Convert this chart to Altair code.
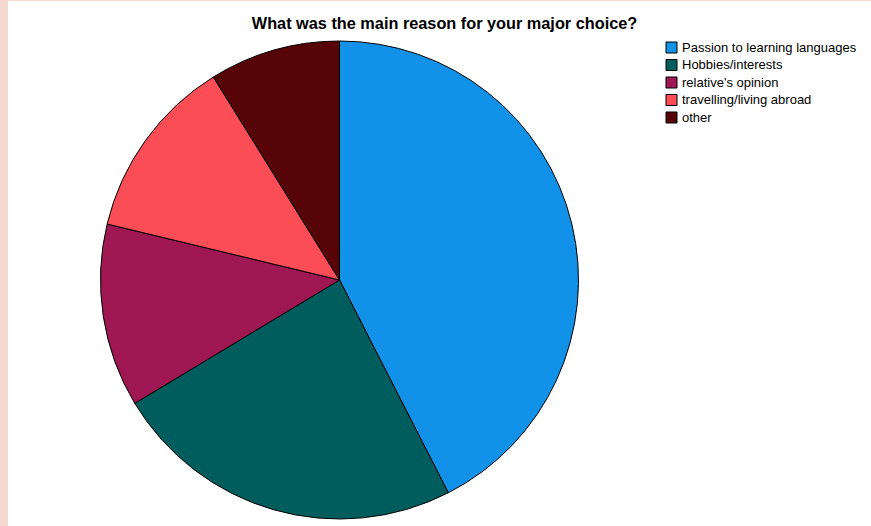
import altair as alt
import pandas as pd

categories = ["Passion to learning languages", "Hobbies/interests", "relative's opinion",
              "travelling/living abroad", "other"]
counts = [48, 27, 14, 14, 10]
colors = ["#1192e8", "#005d5d", "#9f1853", "#fa4d56", "#570408"]

df = pd.DataFrame({"reason": categories, "count": counts, "order": list(range(len(categories)))})

chart = alt.Chart(df).mark_arc(radius=239, stroke="black", strokeWidth=1).encode(
    theta=alt.Theta("count:Q", stack=True),
    order=alt.Order("order:Q"),
    color=alt.Color("reason:N", sort=categories,
                    scale=alt.Scale(domain=categories, range=colors),
                    legend=alt.Legend(title=None, orient="none", legendX=657, legendY=40,
                                      symbolType="square", symbolSize=121, symbolStrokeColor="black",
                                      symbolStrokeWidth=1, labelFontSize=13, labelFont="Liberation Sans",
                                      labelColor="black", rowPadding=3.5, labelOffset=4, padding=0,
                                      labelLimit=0, symbolOffset=0, clipHeight=13)),
    x=alt.value(331.5),
    y=alt.value(279),
).properties(
    width=863, height=525,
    padding={"left": 8, "top": 1, "right": 0, "bottom": 0},
    autosize=alt.AutoSizeParams(type="none"),
    background="#f5d8d0",
    title=alt.TitleParams("What was the main reason for your major choice?", fontSize=16.3,
                          font="Liberation Sans", fontWeight="bold", color="black",
                          anchor="middle", offset=-31, dx=5),
).configure_view(fill="white", stroke=None)

chart.save("out.html", embed_options={"renderer": "svg", "actions": False})
